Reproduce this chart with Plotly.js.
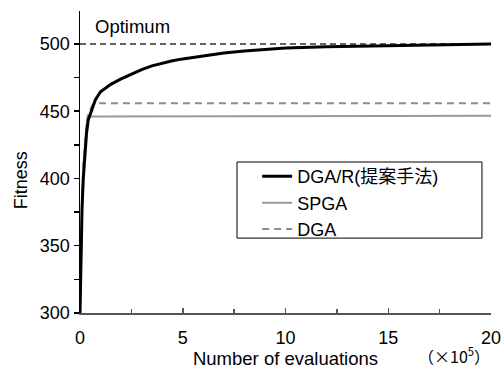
<!DOCTYPE html>
<html>
<head>
<meta charset="utf-8">
<script src="https://cdn.plot.ly/plotly-3.0.1.min.js"></script>
<style>html,body{margin:0;padding:0;background:#fff;}#chart{width:504px;height:372px;}</style>
</head>
<body>
<div id="chart"></div>
<script>
// Evaluations in units of 10^5
const dgarX = [0, 0.02, 0.05, 0.1, 0.16, 0.24, 0.32, 0.4, 0.5, 0.6, 0.75, 1.0, 1.5, 2, 2.5, 3, 3.5, 4, 4.5, 5, 6, 7, 8, 9, 10, 12, 14, 16, 18, 20];
const dgarY = [300, 320, 349, 378, 400, 421, 434, 443.5, 448, 453, 458.5, 464.5, 470, 474, 477.8, 481, 483.7, 485.8, 487.5, 488.9, 491.3, 493.2, 494.8, 496, 497, 498, 498.6, 499, 499.4, 500];

const spgaX = [0, 0.05, 0.1, 0.16, 0.24, 0.32, 0.4, 0.5, 0.6, 1, 2, 5, 10, 15, 20];
const spgaY = [300, 345, 380, 409, 428, 440, 445, 446, 446, 446, 446.2, 446.3, 446.5, 446.5, 446.7];

const dgaX = [0, 0.05, 0.1, 0.16, 0.24, 0.32, 0.4, 0.5, 0.6, 0.75, 1, 5, 10, 20];
const dgaY = [300, 348, 383, 411, 430, 441, 448, 452, 454.5, 455.5, 456, 456, 456, 456];

const optimumX = [0, 20];
const optimumY = [500, 500];

const seriesNames = ['DGA/R(提案手法)', 'SPGA', 'DGA'];

const font = "Arial, 'Liberation Sans', 'Noto Sans CJK JP', sans-serif";

const traces = [
  {x: optimumX, y: optimumY, mode: 'lines', showlegend: false, hoverinfo: 'skip',
   line: {color: '#333', width: 1.5, dash: '6px,4px'}},
  {x: dgaX, y: dgaY, mode: 'lines', name: seriesNames[2], legendrank: 3,
   line: {color: '#8c8c8c', width: 2, dash: '7px,5px'}},
  {x: spgaX, y: spgaY, mode: 'lines', name: seriesNames[1], legendrank: 2,
   line: {color: '#999', width: 2}},
  {x: dgarX, y: dgarY, mode: 'lines', name: seriesNames[0], legendrank: 1,
   line: {color: '#000', width: 3}}
];

const layout = {
  width: 504, height: 372,
  margin: {l: 80, r: 13, t: 11, b: 59},
  paper_bgcolor: '#fff', plot_bgcolor: '#fff',
  font: {family: font, size: 18, color: '#000'},
  showlegend: true,
  legend: {x: 0.431, y: 0.513, xanchor: 'left', yanchor: 'top',
    borderwidth: 0, bgcolor: 'rgba(0,0,0,0)',
    font: {family: font, size: 18, color: '#000'}, tracegroupgap: 0},
  shapes: [
    {type: 'rect', xref: 'paper', yref: 'paper', x0: 0.382, x1: 0.978, y0: 0.248, y1: 0.5,
     line: {color: '#000', width: 1}, fillcolor: '#fff', layer: 'above'}
  ],
  xaxis: {range: [0, 20], showgrid: false, zeroline: false,
    showline: true, linecolor: '#555', linewidth: 2,
    ticks: 'inside', ticklen: 5, tickcolor: '#555', tickwidth: 1.5,
    tickvals: [0, 5, 10, 15, 20], ticklabelstandoff: 7,
    minor: {dtick: 2.5, ticks: 'inside', ticklen: 4, tickcolor: '#555', tickwidth: 1.5},
    tickfont: {size: 18},
    title: {text: 'Number of evaluations', font: {size: 18.5}, standoff: 5}},
  yaxis: {range: [300, 524.5], showgrid: false, zeroline: false,
    showline: true, linecolor: '#000', linewidth: 1.5,
    ticks: 'outside', ticklen: 5, tickcolor: '#000', tickwidth: 1.5,
    tickvals: [300, 350, 400, 450, 500],
    minor: {dtick: 25, ticks: 'outside', ticklen: 5, tickcolor: '#000', tickwidth: 1.5},
    tickfont: {size: 18}},
  annotations: [
    {text: 'Optimum', xref: 'paper', yref: 'y', x: 0.031, y: 513, xanchor: 'left', yanchor: 'middle',
     showarrow: false, font: {size: 18.5}},
    {text: 'Fitness', xref: 'paper', yref: 'paper', x: -0.143, y: 0.44, xanchor: 'center', yanchor: 'middle',
     textangle: -90, showarrow: false, font: {size: 18}},
    {text: '（×10<sup>5</sup>）', xref: 'paper', yref: 'paper', x: 0.91, y: -0.142, xanchor: 'center', yanchor: 'middle',
     showarrow: false, font: {size: 16, family: "'Noto Sans CJK JP', sans-serif"}}
  ]
};

Plotly.newPlot('chart', traces, layout, {displayModeBar: false, staticPlot: true});
</script>
</body>
</html>
